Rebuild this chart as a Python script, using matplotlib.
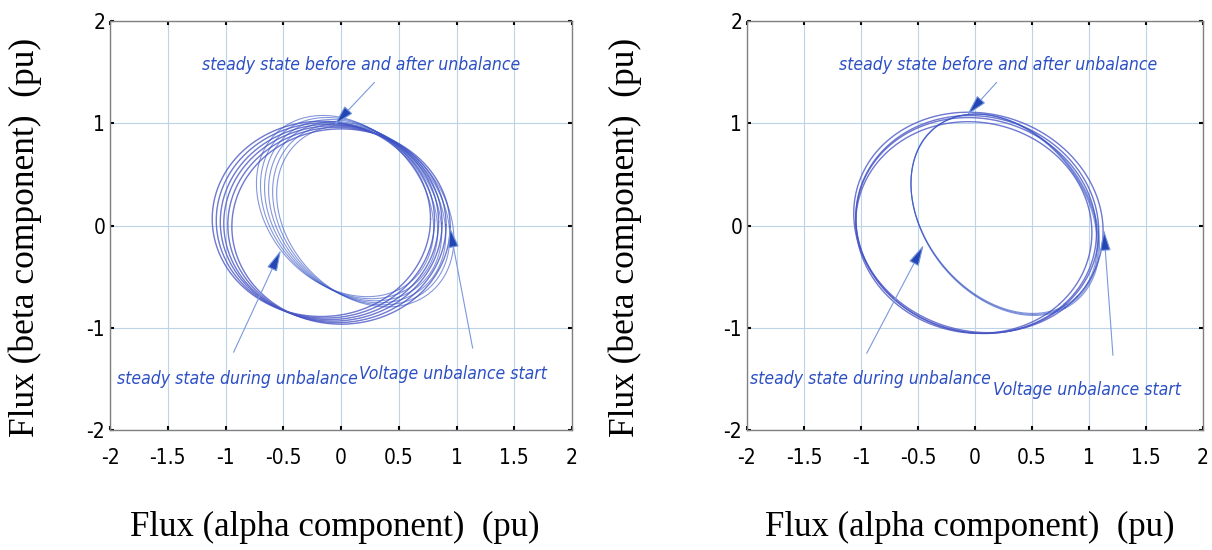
import matplotlib
matplotlib.use('Agg')
import matplotlib.pyplot as plt
import numpy as np
from matplotlib import font_manager

# ---- fonts ----
names = set(f.name for f in font_manager.fontManager.ttflist)
if 'Liberation Sans Narrow' in names:
    narrow = ['Liberation Sans Narrow', 'DejaVu Sans']
    narrow_stretch = 'normal'
else:
    narrow = ['DejaVu Sans']
    narrow_stretch = 'condensed'
serif = ['Liberation Serif', 'DejaVu Serif']

# ---- data: flux loops, (cx, cy, a, b, tilt deg) ----
# left: slow decay of the offset -> many shifted loops
left_bal_cx = [0.00, -0.035, -0.07, -0.10, -0.135, -0.17]
left_bal_cy = [-0.01, 0.005, 0.02, 0.035, 0.05, 0.065]
left_bal_a = [0.945, 0.945, 0.945, 0.945, 0.945, 0.945]
left_bal_b = [0.955, 0.955, 0.955, 0.955, 0.955, 0.955]
left_bal_tilt = [0, 0, 0, 0, 0, 0]

left_unb_cx = [0.21, 0.175, 0.14, 0.105, 0.07, 0.035]
left_unb_cy = [0.09, 0.11, 0.13, 0.15, 0.17, 0.19]
left_unb_a = [0.94, 0.94, 0.94, 0.94, 0.94, 0.94]
left_unb_b = [0.70, 0.70, 0.70, 0.70, 0.70, 0.70]
left_unb_tilt = [-60, -60, -60, -60, -60, -60]

# right: fast decay -> loops nearly on top of each other
right_bal_cx = [0.01, 0.02, -0.01, 0.03]
right_bal_cy = [0.00, 0.01, -0.02, 0.03]
right_bal_a = [1.09, 1.10, 1.06, 1.13]
right_bal_b = [1.02, 1.03, 1.01, 1.04]
right_bal_tilt = [-45, -45, -45, -40]

right_unb_cx = [0.26, 0.265, 0.255]
right_unb_cy = [0.11, 0.105, 0.115]
right_unb_a = [1.05, 1.055, 1.045]
right_unb_b = [0.73, 0.735, 0.725]
right_unb_tilt = [-60, -60, -60]

# annotations: text, text xy, arrow start, arrow tip
left_notes = [
    ('steady state before and after unbalance', (0.17, 1.57), (0.29, 1.40), (-0.06, 0.98)),
    ('steady state during unbalance', (-0.90, -1.50), (-0.93, -1.24), (-0.52, -0.24)),
    ('Voltage unbalance start', (0.97, -1.45), (1.14, -1.20), (0.94, -0.01)),
]
right_notes = [
    ('steady state before and after unbalance', (0.20, 1.57), (0.19, 1.40), (-0.07, 1.08)),
    ('steady state during unbalance', (-0.92, -1.50), (-0.95, -1.25), (-0.45, -0.19)),
    ('Voltage unbalance start', (0.98, -1.61), (1.21, -1.27), (1.13, -0.04)),
]

ticks = [-2, -1.5, -1, -0.5, 0, 0.5, 1, 1.5, 2]
tick_labels = ['-2', '-1.5', '-1', '-0.5', '0', '0.5', '1', '1.5', '2']
yticks = [-2, -1, 0, 1, 2]

line_color = '#3452c4'
text_color = '#2c4fc4'
arrow_color = '#7a98dc'
head_color = '#2446b4'


def ellipse(cx, cy, a, b, tilt):
    t = np.linspace(0, 2 * np.pi, 500)
    th = np.deg2rad(tilt)
    x = cx + a * np.cos(t) * np.cos(th) - b * np.sin(t) * np.sin(th)
    y = cy + a * np.cos(t) * np.sin(th) + b * np.sin(t) * np.cos(th)
    return x, y


def draw_panel(ax, bal, unb, notes):
    for cx, cy, a, b, tl in zip(*bal):
        x, y = ellipse(cx, cy, a, b, tl)
        ax.plot(x, y, color=line_color, lw=1.0, alpha=0.75)
        ax.plot(x, y, color='#c060c8', lw=0.3, alpha=0.35)
    for cx, cy, a, b, tl in zip(*unb):
        x, y = ellipse(cx, cy, a, b, tl)
        ax.plot(x, y, color=line_color, lw=0.8, alpha=0.6)
    for txt, txy, p0, p1 in notes:
        ax.annotate('', xy=p1, xytext=p0,
                    arrowprops=dict(arrowstyle='-|>,head_length=1.1,head_width=0.28',
                                    mutation_scale=12, edgecolor=arrow_color,
                                    facecolor=head_color, lw=0.8, shrinkA=0, shrinkB=0))
        ax.text(txy[0], txy[1], txt, color=text_color, style='italic',
                fontsize=12.6, family=narrow, stretch=narrow_stretch,
                ha='center', va='center')
    ax.set_xlim(-2, 2)
    ax.set_ylim(-2, 2)
    ax.set_xticks(ticks)
    ax.set_xticklabels(tick_labels, family=narrow, stretch=narrow_stretch, fontsize=15)
    ax.set_yticks(yticks)
    ax.set_yticklabels([str(v) for v in yticks], family=narrow, stretch=narrow_stretch, fontsize=15)
    ax.grid(True, color='#bcd4e6', lw=0.8)
    ax.set_axisbelow(True)
    ax.tick_params(direction='in', length=3, width=1.5, color='black',
                   top=True, right=True)
    ax.tick_params(axis='x', pad=13)
    ax.tick_params(axis='y', pad=3.5)
    for s in ax.spines.values():
        s.set_color('#808080')
        s.set_linewidth(1.0)


fig = plt.figure(figsize=(12.12, 5.5), dpi=100)
ax1 = fig.add_axes([110 / 1212, 120 / 550, 462 / 1212, 409 / 550])
ax2 = fig.add_axes([747 / 1212, 120 / 550, 456 / 1212, 409 / 550])

draw_panel(ax1,
           (left_bal_cx, left_bal_cy, left_bal_a, left_bal_b, left_bal_tilt),
           (left_unb_cx, left_unb_cy, left_unb_a, left_unb_b, left_unb_tilt),
           left_notes)
draw_panel(ax2,
           (right_bal_cx, right_bal_cy, right_bal_a, right_bal_b, right_bal_tilt),
           (right_unb_cx, right_unb_cy, right_unb_a, right_unb_b, right_unb_tilt),
           right_notes)

xlab = 'Flux (alpha component)  (pu)'
ylab = 'Flux (beta component)  (pu)'
fig.text(335 / 1212, 1 - 527 / 550, xlab, family=serif, fontsize=25, ha='center', va='center')
fig.text(970 / 1212, 1 - 527 / 550, xlab, family=serif, fontsize=25, ha='center', va='center')
fig.text(25 / 1212, 1 - 237 / 550, ylab, family=serif, fontsize=25.5, ha='center', va='center', rotation=90)
fig.text(625 / 1212, 1 - 237 / 550, ylab, family=serif, fontsize=25.5, ha='center', va='center', rotation=90)

plt.savefig('out.png', dpi=100)
plt.close()
